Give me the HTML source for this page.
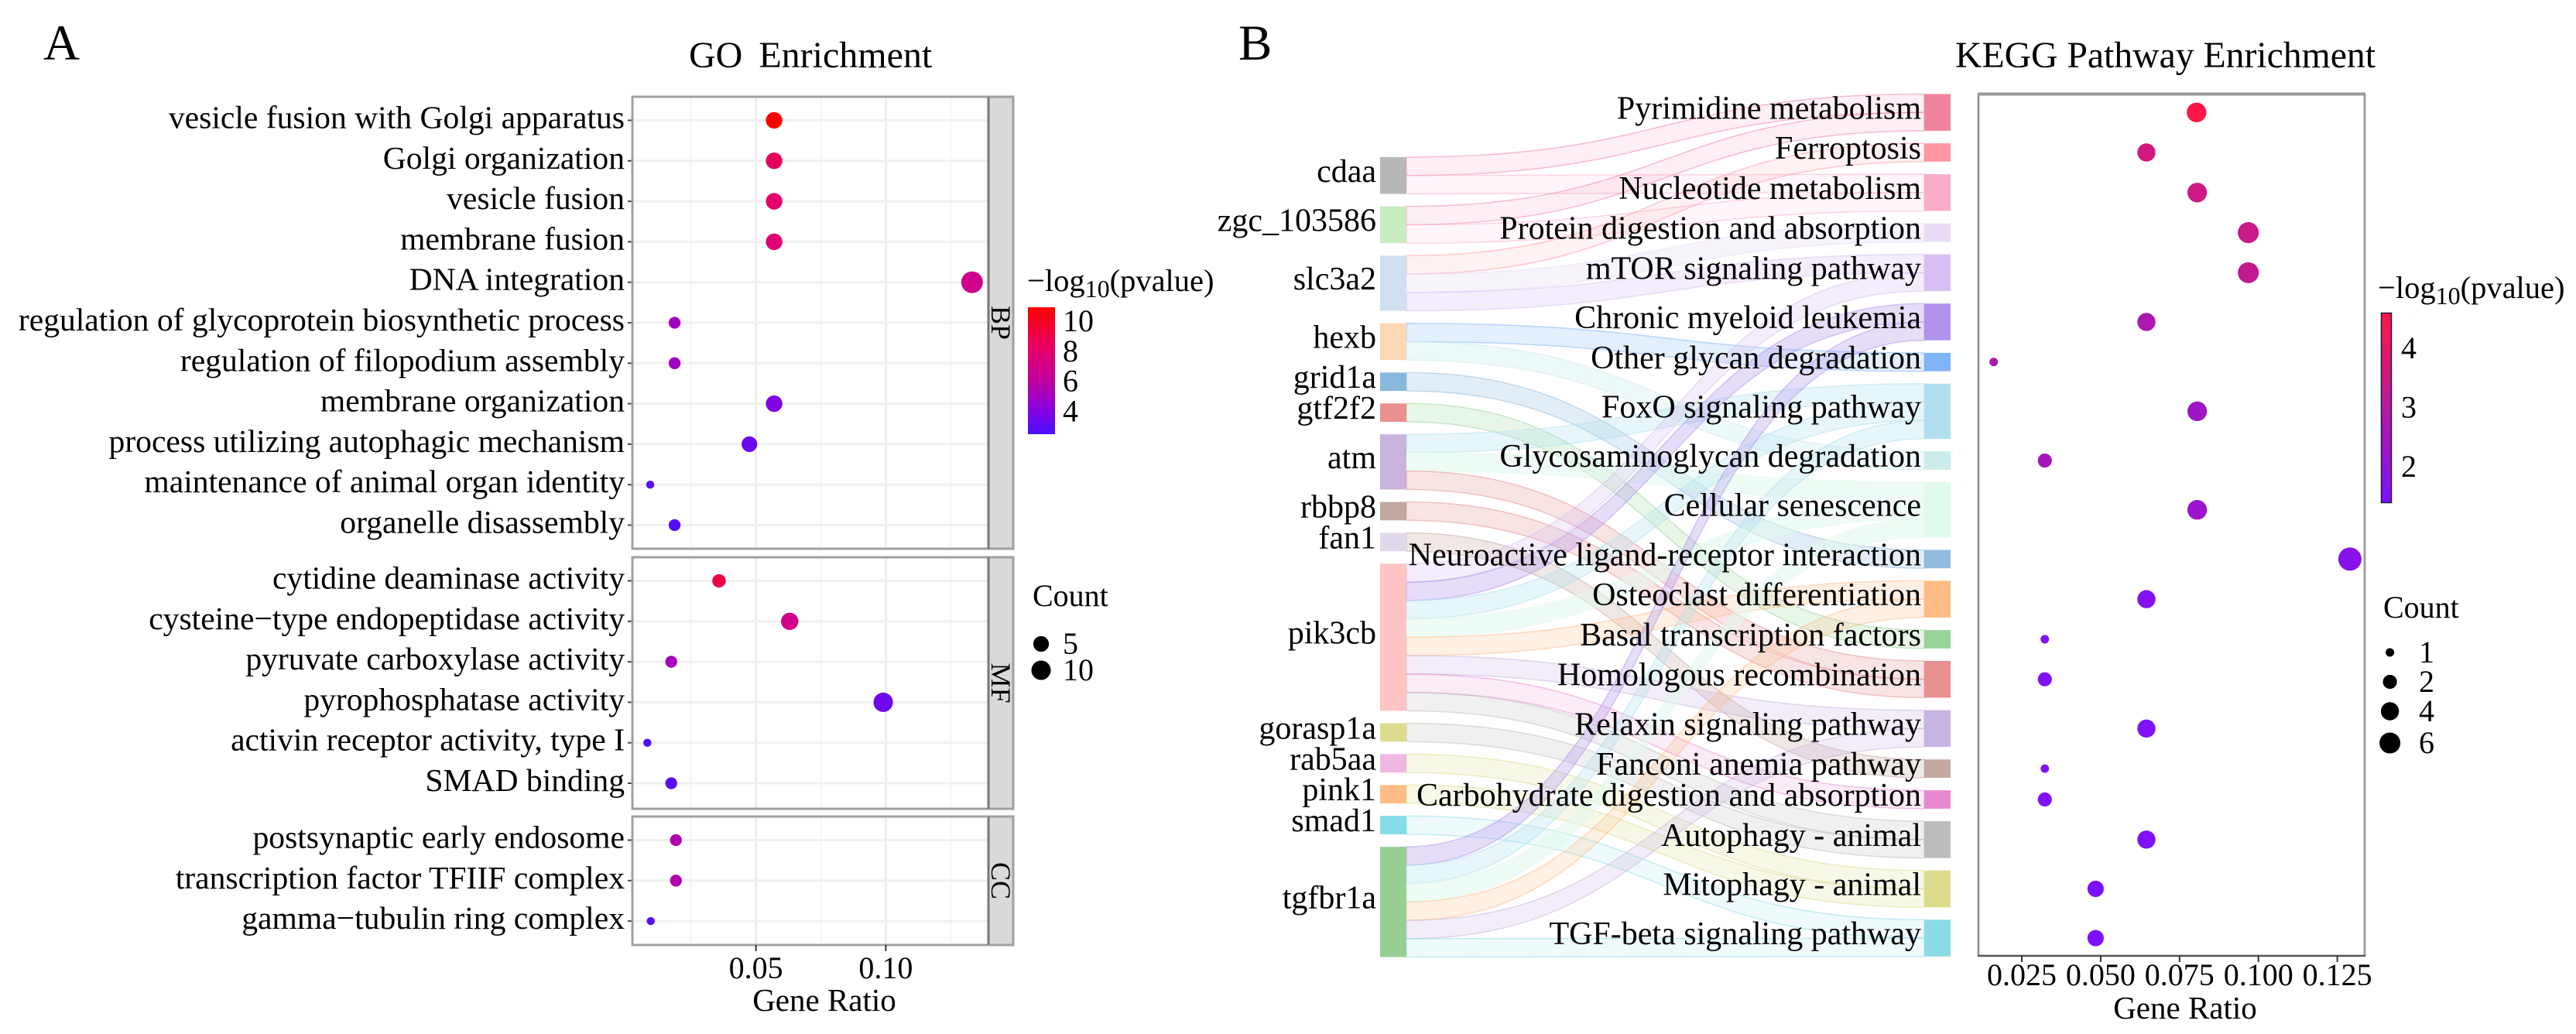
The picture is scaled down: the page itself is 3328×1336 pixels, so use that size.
<!DOCTYPE html>
<html lang="en">
<head>
<meta charset="utf-8">
<title>GO and KEGG Enrichment</title>
<style>
html,body{margin:0;padding:0;background:#fff;}
svg{display:block;}
text{font-family:"Liberation Serif","Times New Roman",serif;fill:#000;}
</style>
</head>
<body>
<svg id="fig" xmlns="http://www.w3.org/2000/svg" width="3328" height="1336" viewBox="0 0 3328 1336">
  <rect x="0" y="0" width="3328" height="1336" fill="#ffffff"/>
  <defs>
    <linearGradient id="gradA" x1="0" y1="1" x2="0" y2="0">
      <stop offset="0" stop-color="#4a10ff"/>
      <stop offset="0.2" stop-color="#8a00dd"/>
      <stop offset="0.43" stop-color="#c4009c"/>
      <stop offset="0.67" stop-color="#e6006a"/>
      <stop offset="1" stop-color="#ff0000"/>
    </linearGradient>
    <linearGradient id="gradB" x1="0" y1="1" x2="0" y2="0">
      <stop offset="0" stop-color="#7a10ff"/>
      <stop offset="0.5" stop-color="#b81a9c"/>
      <stop offset="1" stop-color="#ff1744"/>
    </linearGradient>
  </defs>
  <text x="56" y="77" font-size="65">A</text>
  <text x="1600" y="77" font-size="65">B</text>
  <text x="890" y="87" font-size="48" word-spacing="9">GO Enrichment</text>
  <text x="2526" y="87" font-size="47.7">KEGG Pathway Enrichment</text>
  <g id="goLayer"></g>
  <g id="sankeyLayer"></g>
  <g id="keggLayer"></g>

  <text x="1065" y="1306" font-size="41" text-anchor="middle">Gene Ratio</text>
  <text x="1327" y="376" font-size="40.5">−log<tspan font-size="32" dy="8">10</tspan><tspan dy="-8">(pvalue)</tspan></text>
  <rect x="1328" y="397" width="35" height="164" fill="url(#gradA)"/>
  <text x="1334" y="783" font-size="40">Count</text>

  <text x="2823" y="1316" font-size="41" text-anchor="middle">Gene Ratio</text>
  <text x="3072" y="385" font-size="40.5">−log<tspan font-size="32" dy="8">10</tspan><tspan dy="-8">(pvalue)</tspan></text>
  <rect x="3076.5" y="404.5" width="13" height="245" fill="url(#gradB)" stroke="#1a1a40" stroke-width="1.5"/>
  <text x="3079" y="798" font-size="40">Count</text>
</svg>
<script>
/* ---------- GO chart data ---------- */
const goTerms = ["vesicle fusion with Golgi apparatus","Golgi organization","vesicle fusion","membrane fusion","DNA integration","regulation of glycoprotein biosynthetic process","regulation of filopodium assembly","membrane organization","process utilizing autophagic mechanism","maintenance of animal organ identity","organelle disassembly","cytidine deaminase activity","cysteine−type endopeptidase activity","pyruvate carboxylase activity","pyrophosphatase activity","activin receptor activity, type I","SMAD binding","postsynaptic early endosome","transcription factor TFIIF complex","gamma−tubulin ring complex"];
const goFacet = ["BP","BP","BP","BP","BP","BP","BP","BP","BP","BP","BP","MF","MF","MF","MF","MF","MF","CC","CC","CC"];
const goRatio = [0.057,0.057,0.057,0.057,0.1332,0.0187,0.0187,0.057,0.0475,0.0093,0.0187,0.0358,0.063,0.0174,0.099,0.0082,0.0174,0.0192,0.0192,0.0095];
const goCount = [6,6,6,6,14,2,2,6,5,1,2,3,7,2,10,1,2,2,2,1];
const goLogP = [10.9,8.4,8.1,7.7,6.7,4.9,4.9,3.9,3.3,2.7,2.7,9.1,6.9,5.1,3.4,2.5,2.8,5.5,5.5,2.8];
const goFacets = ["BP","MF","CC"];
const goXTicks = [0.05,0.10];
const goXTickLabels = ["0.05","0.10"];
const goXMinor = [0.025,0.075,0.125];
const goColorTicks = [10,8,6,4];
const goSizeLegend = [5,10];

/* ---------- Sankey data ---------- */
const genes = ["cdaa","zgc_103586","slc3a2","hexb","grid1a","gtf2f2","atm","rbbp8","fan1","pik3cb","gorasp1a","rab5aa","pink1","smad1","tgfbr1a"];
const pathways = ["Pyrimidine metabolism","Ferroptosis","Nucleotide metabolism","Protein digestion and absorption","mTOR signaling pathway","Chronic myeloid leukemia","Other glycan degradation","FoxO signaling pathway","Glycosaminoglycan degradation","Cellular senescence","Neuroactive ligand-receptor interaction","Osteoclast differentiation","Basal transcription factors","Homologous recombination","Relaxin signaling pathway","Fanconi anemia pathway","Carbohydrate digestion and absorption","Autophagy - animal","Mitophagy - animal","TGF-beta signaling pathway"];
const geneColors = ["#b8b8b8","#c8ecc0","#d0e0f0","#fdd8b4","#88b8dc","#ea9090","#c8b4dc","#c0a8a0","#e0d8ea","#ffc4c4","#dcdc8c","#f0b8e0","#ffbc84","#84dce8","#98d094"];
const pathwayColors = ["#f0849f","#ff98a2","#fbadca","#e8dcf5","#d6c0f2","#b094ec","#80b4f8","#b0e0ee","#ccecec","#e0faec","#90bce0","#ffbc84","#98d498","#e89090","#c8b4e0","#c4a8a0","#e888d0","#bcbcbc","#dcdc8c","#8cdce8"];
const flowAlpha = [0.13,0.13,0.11,0.3,0.28,0.32,0.22,0.3,0.34,0.5,0.26,0.22,0.22,0.24,0.24,0.26,0.16,0.22,0.2,0.14];
const flowGene = ["cdaa","cdaa","zgc_103586","zgc_103586","slc3a2","slc3a2","slc3a2","hexb","hexb","grid1a","gtf2f2","atm","atm","atm","rbbp8","fan1","pik3cb","pik3cb","pik3cb","pik3cb","pik3cb","pik3cb","pik3cb","pik3cb","gorasp1a","rab5aa","pink1","smad1","tgfbr1a","tgfbr1a","tgfbr1a","tgfbr1a","tgfbr1a","tgfbr1a"];
const flowPathway = ["Pyrimidine metabolism","Nucleotide metabolism","Pyrimidine metabolism","Nucleotide metabolism","Ferroptosis","Protein digestion and absorption","mTOR signaling pathway","Other glycan degradation","Glycosaminoglycan degradation","Neuroactive ligand-receptor interaction","Basal transcription factors","FoxO signaling pathway","Cellular senescence","Homologous recombination","Homologous recombination","Fanconi anemia pathway","mTOR signaling pathway","Chronic myeloid leukemia","FoxO signaling pathway","Cellular senescence","Osteoclast differentiation","Relaxin signaling pathway","Carbohydrate digestion and absorption","Autophagy - animal","Autophagy - animal","Mitophagy - animal","Mitophagy - animal","TGF-beta signaling pathway","Chronic myeloid leukemia","FoxO signaling pathway","Cellular senescence","Osteoclast differentiation","Relaxin signaling pathway","TGF-beta signaling pathway"];

/* ---------- KEGG chart data ---------- */
const keggRatio = [0.0804,0.0645,0.0806,0.0968,0.0968,0.0645,0.0161,0.0806,0.0323,0.0806,0.129,0.0645,0.0323,0.0323,0.0645,0.0323,0.0323,0.0645,0.0484,0.0484];
const keggCount = [5,4,5,6,6,4,1,5,2,5,8,4,1,2,4,1,2,4,3,3];
const keggLogP = [4.55,3.55,3.45,3.35,3.2,2.65,2.6,2.3,2.5,2.2,1.75,1.65,1.55,1.55,1.55,1.55,1.55,1.55,1.45,1.45];
const keggXTicks = [0.025,0.05,0.075,0.1,0.125];
const keggXTickLabels = ["0.025","0.050","0.075","0.100","0.125"];
const keggColorTicks = [4,3,2];
const keggSizeLegend = [1,2,4,6];

const NS = "http://www.w3.org/2000/svg";
const goLayer = document.getElementById("goLayer");
const sankeyLayer = document.getElementById("sankeyLayer");
const keggLayer = document.getElementById("keggLayer");

function shape(parent, tag, attrs){
  const el = document.createElementNS(NS, tag);
  for (const k in attrs) el.setAttribute(k, attrs[k]);
  parent.appendChild(el);
  return el;
}
function label(parent, x, y, str, size, anchor){
  const el = shape(parent, "text", {x:x, y:y, "font-size":size, "text-anchor":anchor||"start"});
  el.textContent = str;
  return el;
}
function hex(c){return [parseInt(c.slice(1,3),16),parseInt(c.slice(3,5),16),parseInt(c.slice(5,7),16)];}
function ramp(stops, t){
  t = Math.max(0, Math.min(1, t));
  for (let i = 1; i < stops.length; i++){
    if (t <= stops[i][0]){
      const a = stops[i-1], b = stops[i], f = (t-a[0])/(b[0]-a[0]);
      const ca = hex(a[1]), cb = hex(b[1]);
      return "rgb(" + ca.map((v,j)=>Math.round(v+(cb[j]-v)*f)).join(",") + ")";
    }
  }
  return stops[stops.length-1][1];
}

/* ---------- GO scales ---------- */
const xGo = v => 976.6 + (v - 0.05) * 3356;
const panelBox = {BP:{top:125,bottom:709}, MF:{top:720,bottom:1045}, CC:{top:1055,bottom:1221}};
const yGo = (facet, i) => panelBox[facet].top + 30.5 + i * 52.3;
const dGo = c => 10.5 + 17.5 * Math.sqrt((c - 1) / 13);
const goStops = [[0,"#4a10ff"],[0.2,"#8a00dd"],[0.43,"#c4009c"],[0.67,"#e6006a"],[1,"#ff0000"]];
const colorGo = v => ramp(goStops, (v - 2.42) / (10.93 - 2.42));
const yGoBar = v => 415 + (10 - v) * 19.4;

/* GO panels */
goFacets.forEach(function(f){
  const box = panelBox[f];
  const h = box.bottom - box.top;
  const bg = shape(goLayer, "rect", {x:817, y:box.top, width:460, height:h, fill:"#ffffff"});
  
  
  goXMinor.forEach(function(v){
    const g = shape(goLayer, "line", {x1:xGo(v), x2:xGo(v), y1:box.top, y2:box.bottom, stroke:"#f5f5f5", "stroke-width":2});
    
    
  });
  goXTicks.forEach(function(v){
    const g = shape(goLayer, "line", {x1:xGo(v), x2:xGo(v), y1:box.top, y2:box.bottom, stroke:"#eeeeee", "stroke-width":3});
    
    
  });
});

/* GO rows */
const facetIndex = {BP:0, MF:0, CC:0};
goTerms.forEach(function(term, k){
  const f = goFacet[k];
  const y = yGo(f, facetIndex[f]++);
  const grid = shape(goLayer, "line", {x1:817, x2:1277, y1:y, y2:y, stroke:"#f0f0f0", "stroke-width":3});
  
  
  const tick = shape(goLayer, "line", {x1:811, x2:817, y1:y, y2:y, stroke:"#444", "stroke-width":2});
  
  
  const t = label(goLayer, 807, y + 10, term, 41.6, "end");
  
  
});
facetIndex.BP = 0; facetIndex.MF = 0; facetIndex.CC = 0;
goTerms.forEach(function(term, k){
  const f = goFacet[k];
  const y = yGo(f, facetIndex[f]++);
  const dot = shape(goLayer, "circle", {cx:xGo(goRatio[k]), cy:y, r:dGo(goCount[k]) / 2, fill:colorGo(goLogP[k])});
  
  
});

/* GO frames and strips */
goFacets.forEach(function(f){
  const box = panelBox[f];
  const h = box.bottom - box.top;
  const strip = shape(goLayer, "rect", {x:1277, y:box.top, width:32, height:h, fill:"#d9d9d9"});
  
  
  const frame = shape(goLayer, "rect", {x:817, y:box.top, width:492, height:h, fill:"none", stroke:"#a0a0a0", "stroke-width":3});
  
  
  const sep = shape(goLayer, "line", {x1:1277, x2:1277, y1:box.top, y2:box.bottom, stroke:"#777777", "stroke-width":3});
  
  
  const cy = (box.top + box.bottom) / 2;
  const st = label(goLayer, 0, 0, f, 36, "middle");
  st.setAttribute("transform", "translate(1281," + cy + ") rotate(90)");
  st.setAttribute("fill", "#1a1a1a");
  
  
});

/* GO x axis */
goXTicks.forEach(function(v, i){
  const tk = shape(goLayer, "line", {x1:xGo(v), x2:xGo(v), y1:1221, y2:1229, stroke:"#333", "stroke-width":2});
  
  
  const tl = label(goLayer, xGo(v), 1264, goXTickLabels[i], 40, "middle");
  
  
});

/* GO legends */
goColorTicks.forEach(function(v){
  const y = yGoBar(v);
  const a = shape(goLayer, "line", {x1:1328, x2:1335, y1:y, y2:y, stroke:"#ffffff", "stroke-width":1.5, "stroke-opacity":0.7});
  
  
  const b = shape(goLayer, "line", {x1:1356, x2:1363, y1:y, y2:y, stroke:"#ffffff", "stroke-width":1.5, "stroke-opacity":0.7});
  
  
  const t = label(goLayer, 1373, y + 13, String(v), 40);
  
  
});
goSizeLegend.forEach(function(v, i){
  const y = 832 + i * 34;
  const c = shape(goLayer, "circle", {cx:1345, cy:y, r:dGo(v) / 2, fill:"#000"});
  
  
  const t = label(goLayer, 1373, y + 13, String(v), 40);
  
  
});

/* ---------- Sankey layout ---------- */
const UNIT = 23.75, GAP = 16.15;
const LEFT_X0 = 1783, LEFT_X1 = 1817, RIGHT_X0 = 2486, RIGHT_X1 = 2520;
const LEFT_TOP = 203, RIGHT_TOP = 121.5;
const geneWeight = genes.map(g => flowGene.filter(x => x === g).length);
const pathwayWeight = pathways.map(p => flowPathway.filter(x => x === p).length);
const geneTop = [], pathwayTop = [];
(function(){
  let y = LEFT_TOP;
  geneWeight.forEach(function(w){ geneTop.push(y); y += w * UNIT + GAP; });
  y = RIGHT_TOP;
  pathwayWeight.forEach(function(w){ pathwayTop.push(y); y += w * UNIT + GAP; });
})();
const flowOrder = flowGene.map((_, i) => i);
const leftCursor = geneTop.slice(), rightCursor = pathwayTop.slice();
const byLeft = flowOrder.slice().sort((a, b) =>
  genes.indexOf(flowGene[a]) - genes.indexOf(flowGene[b]) || pathways.indexOf(flowPathway[a]) - pathways.indexOf(flowPathway[b]));
const byRight = flowOrder.slice().sort((a, b) =>
  pathways.indexOf(flowPathway[a]) - pathways.indexOf(flowPathway[b]) || genes.indexOf(flowGene[a]) - genes.indexOf(flowGene[b]));
const flowY0 = [], flowY1 = [];
byLeft.forEach(function(i){ const g = genes.indexOf(flowGene[i]); flowY0[i] = leftCursor[g]; leftCursor[g] += UNIT; });
byRight.forEach(function(i){ const p = pathways.indexOf(flowPathway[i]); flowY1[i] = rightCursor[p]; rightCursor[p] += UNIT; });

flowOrder.forEach(function(i){
  const pi = pathways.indexOf(flowPathway[i]);
  const col = pathwayColors[pi];
  const a = flowY0[i], b = flowY1[i], m = (LEFT_X1 + RIGHT_X0) / 2;
  const d = "M" + LEFT_X1 + " " + a + " C" + m + " " + a + " " + m + " " + b + " " + RIGHT_X0 + " " + b +
            " L" + RIGHT_X0 + " " + (b + UNIT) + " C" + m + " " + (b + UNIT) + " " + m + " " + (a + UNIT) + " " + LEFT_X1 + " " + (a + UNIT) + " Z";
  const ribbon = shape(sankeyLayer, "path", {d:d, fill:col, "fill-opacity":flowAlpha[pi], stroke:col, "stroke-opacity":0.5, "stroke-width":1.5});
  
  
});
genes.forEach(function(g, i){
  const h = geneWeight[i] * UNIT;
  const n = shape(sankeyLayer, "rect", {x:LEFT_X0, y:geneTop[i], width:LEFT_X1 - LEFT_X0, height:h, fill:geneColors[i]});
  
  
  const t = label(sankeyLayer, 1778, geneTop[i] + h / 2 + 8, g, 42, "end");
  
  
});
pathways.forEach(function(p, i){
  const h = pathwayWeight[i] * UNIT;
  const n = shape(sankeyLayer, "rect", {x:RIGHT_X0, y:pathwayTop[i], width:RIGHT_X1 - RIGHT_X0, height:h, fill:pathwayColors[i]});
  
  
  const t = label(sankeyLayer, 2482, pathwayTop[i] + h / 2 + 8, p, 42, "end");
  
  
});

/* ---------- KEGG chart ---------- */
const xKegg = v => 2612 + (v - 0.025) * 4076;
const dKegg = c => 11 + 19 * Math.sqrt((c - 1) / 7);
const keggStops = [[0,"#7a10ff"],[0.5,"#b81a9c"],[1,"#ff1744"]];
const colorKegg = v => ramp(keggStops, (v - 1.38) / (4.6 - 1.38));
const yKeggBar = v => 450 + (4 - v) * 76.5;

const keggRight = shape(keggLayer, "line", {x1:3055, x2:3055, y1:121, y2:1235, stroke:"#a0a0a0", "stroke-width":3});


const keggLeft = shape(keggLayer, "line", {x1:2556, x2:2556, y1:121, y2:1235, stroke:"#8a8a8a", "stroke-width":2.5});


const keggTop = shape(keggLayer, "line", {x1:2555, x2:3056, y1:121.5, y2:121.5, stroke:"#9a9a9a", "stroke-width":4});


const keggBottom = shape(keggLayer, "line", {x1:2555, x2:3056, y1:1235, y2:1235, stroke:"#555555", "stroke-width":2.5});



pathways.forEach(function(p, i){
  const y = pathwayTop[i] + pathwayWeight[i] * UNIT / 2;
  const dot = shape(keggLayer, "circle", {cx:xKegg(keggRatio[i]), cy:y, r:dKegg(keggCount[i]) / 2, fill:colorKegg(keggLogP[i])});
  
  
});
keggXTicks.forEach(function(v, i){
  const tk = shape(keggLayer, "line", {x1:xKegg(v), x2:xKegg(v), y1:1235, y2:1243, stroke:"#333", "stroke-width":2});
  
  
  const tl = label(keggLayer, xKegg(v), 1273, keggXTickLabels[i], 40, "middle");
  
  
});
keggColorTicks.forEach(function(v){
  const t = label(keggLayer, 3102, yKeggBar(v) + 13, String(v), 40);
  
  
});
const keggLegendY = [843, 881, 919, 960];
keggSizeLegend.forEach(function(v, i){
  const c = shape(keggLayer, "circle", {cx:3087.6, cy:keggLegendY[i], r:dKegg(v) / 2, fill:"#000"});
  
  
  const t = label(keggLayer, 3125, keggLegendY[i] + 13, String(v), 40);
  
  
});
</script>
</body>
</html>
